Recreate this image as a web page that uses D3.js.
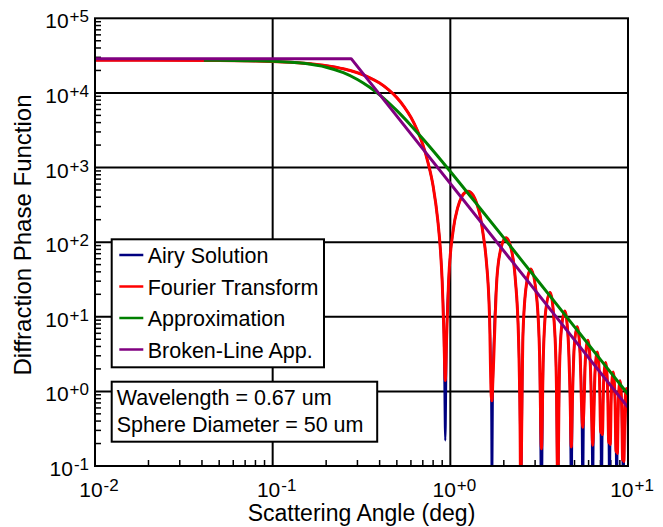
<!DOCTYPE html>
<html><head><meta charset="utf-8">
<script src="https://cdn.jsdelivr.net/npm/d3@7"></script>
<style>
body{margin:0;background:#fff}
svg{display:block;font-family:"Liberation Sans",Arial,sans-serif}
</style>
</head><body>
<svg id="c" width="663" height="527"></svg>
<script>
// ---- data ----
const airyAngle = [
0.01,0.02,0.05,0.1,0.15,0.2,0.25,0.3,0.35,0.4,0.45,0.5,0.55,0.6,0.65,0.7,0.75,0.8,0.85,0.88,0.9,0.92,0.9366,
0.9533,0.9777,1.0388,1.1000,1.1611,1.2222,1.2553,1.3444,1.4055,1.4666,1.5277,1.5888,1.6621,1.6988,1.7148,
1.7355,1.8333,1.9555,2.0574,2.1999,2.3221,2.4199,2.4688,2.4867,
2.5635,2.6787,2.8403,3.0643,3.1800,3.2568,
3.3336,3.4487,3.6407,3.8327,3.9479,4.0260,
4.1028,4.2180,4.4100,4.6019,4.7171,4.7947,
4.8716,4.9868,5.1787,5.3707,5.4859,5.5633,
5.6401,5.7553,5.9473,6.1393,6.2544,6.3317,
6.4085,6.5237,6.7157,6.9076,7.0228,7.1000,
7.1768,7.2920,7.4840,7.6759,7.7911,7.8682,
7.9450,8.0602,8.2522,8.4442,8.5593,8.6364,
8.7132,8.8284,9.0204,9.2123,9.3275,9.4045,
9.4813,9.5965,9.7884,9.9804,10.0956];
const airyValue = [
27463,27429,27189,26346,24989,23187,21037,18620,16074,13557,10980,8647,6519,4712,3197,2037,1148,564,196,77.3,29.5,5.8,0.22,
5.46,29.9,146.7,289.9,409,471.8,482.6,423.5,334,233.7,130.4,61.5,9.95,0.88,0.02,
1.40,35.7,94.5,114.3,81.6,31.7,5.23,0.363,0.02,
5.79,26.6,43.6,17.76,3.03,0.02,
2.634,12.45,21.17,9.07,1.586,0.02,
1.413,6.808,11.915,5.242,0.930,0.02,
0.844,4.120,7.357,3.298,0.591,0.02,
0.544,2.680,4.858,2.208,0.399,0.02,
0.371,1.840,3.374,1.550,0.282,0.02,
0.264,1.318,2.438,1.130,0.206,0.02,
0.1946,0.976,1.818,0.849,0.1556,0.02,
0.1475,0.7425,1.392,0.6535,0.1202,0.02,
0.1145,0.578,1.0895,0.514,0.0948];
const fourierAngle = [
0.01,0.02,0.05,0.1,0.15,0.2,0.25,0.3,0.35,0.4,0.45,0.5,0.55,0.6,0.65,0.7,0.75,0.8,0.85,0.88,0.9,0.92,0.9366,
0.9533,0.9777,1.0388,1.1000,1.1611,1.2222,1.2553,1.3444,1.4055,1.4666,1.5277,1.5888,1.6621,1.6988,1.7148,
1.7355,1.8333,1.9555,2.0574,2.1999,2.3221,2.4199,2.4688,2.4867,
2.5635,2.6787,2.8403,3.0643,3.1800,3.2568,
3.3336,3.4487,3.6407,3.8327,3.9479,4.0260,
4.1028,4.2180,4.4100,4.6019,4.7171,4.7947,
4.8716,4.9868,5.1787,5.3707,5.4859,5.5633,
5.6401,5.7553,5.9473,6.1393,6.2544,6.3317,
6.4085,6.5237,6.7157,6.9076,7.0228,7.1000,
7.1768,7.2920,7.4840,7.6759,7.7911,7.8682,
7.9450,8.0602,8.2522,8.4442,8.5593,8.6364,
8.7132,8.8284,9.0204,9.2123,9.3275,9.4045,
9.4813,9.5965,9.7884,9.9804,10.0956];
const fourierValue = [
27463,27429,27189,26346,24989,23187,21037,18620,16074,13557,10980,8647,6519,4712,3197,2037,1148,564,196,77.3,29.5,5.8,1.4,
5.46,29.9,146.7,289.9,409,471.8,482.6,423.5,334,233.7,130.4,61.5,9.95,0.88,0.75,
1.40,35.7,94.5,114.3,81.6,31.7,5.23,0.363,0.05,
5.79,26.6,43.6,17.76,3.03,0.17,
2.634,12.45,21.17,9.07,1.586,0.05,
1.413,6.808,11.915,5.242,0.930,0.18,
0.844,4.120,7.357,3.298,0.591,0.33,
0.544,2.680,4.858,2.208,0.399,0.19,
0.371,1.840,3.374,1.550,0.282,0.30,
0.264,1.318,2.438,1.130,0.206,0.22,
0.1946,0.976,1.818,0.849,0.1556,0.26,
0.1475,0.7425,1.392,0.6535,0.1202,0.23,
0.1145,0.578,1.0895,0.514,0.0948];
const approxAngle = [0.041,0.06,0.1,0.15,0.2,0.25,0.3,0.35,0.4,0.5,0.6,0.7,0.8,1,1.5,2,3,5,7,10];
const approxValue = [27330,27220,26600,24900,22100,18700,15150,12000,9400,5780,3670,2430,1680,885,268,114,33.8,7.32,2.67,0.915];
const brokenAngle = [0.01,0.2767,10];
const brokenValue = [28800,28800,0.61];

const xTicks = [0.01,0.1,1,10];
const xTickExp = ["-2","-1","+0","+1"];
const yTicks = [0.1,1,10,100,1000,10000,100000];
const yTickExp = ["-1","+0","+1","+2","+3","+4","+5"];

const seriesNames = ["Airy Solution","Fourier Transform","Approximation","Broken-Line App."];
const seriesColors = ["#000080","#ff0000","#008000","#800080"];
const infoLines = ["Wavelength = 0.67 um","Sphere Diameter = 50 um"];

// ---- drawing ----
const svg = d3.select("#c");
const L=95, R=628, T=18.3, B=466;
const x = d3.scaleLog().domain([0.01,10]).range([L,R]);
const y = d3.scaleLog().domain([0.1,1e5]).range([B,T]);

svg.append("defs").append("clipPath").attr("id","clip")
  .append("rect").attr("x",L).attr("y",T).attr("width",R-L).attr("height",B-T);

// grid
const g = svg.append("g");
g.selectAll(".gx").data(xTicks.slice(1,-1)).join("line")
  .attr("x1",d=>x(d)).attr("x2",d=>x(d)).attr("y1",T).attr("y2",B)
  .attr("stroke","#000").attr("stroke-width",2);
g.selectAll(".gy").data(yTicks.slice(1,-1)).join("line")
  .attr("y1",d=>y(d)).attr("y2",d=>y(d)).attr("x1",L).attr("x2",R)
  .attr("stroke","#000").attr("stroke-width",2);

// minor ticks
const xMinor=[], yMinor=[];
xTicks.slice(0,-1).forEach(d=>{for(let k=2;k<10;k++) xMinor.push(d*k);});
yTicks.slice(0,-1).forEach(d=>{for(let k=2;k<10;k++) yMinor.push(d*k);});
g.selectAll(".mx").data(xMinor).join("line")
  .attr("x1",d=>x(d)).attr("x2",d=>x(d)).attr("y1",B).attr("y2",B-6)
  .attr("stroke","#000").attr("stroke-width",1.5);
g.selectAll(".my").data(yMinor).join("line")
  .attr("y1",d=>y(d)).attr("y2",d=>y(d)).attr("x1",L).attr("x2",L+6)
  .attr("stroke","#000").attr("stroke-width",1.5);

// series
const smooth = d3.line().x(d=>x(d[0])).y(d=>y(Math.max(d[1],1e-3))).curve(d3.curveMonotoneX);
const straight = d3.line().x(d=>x(d[0])).y(d=>y(d[1])).curve(d3.curveLinear);
const series = [
  {a:airyAngle,v:airyValue,c:seriesColors[0],w:2.2,gen:smooth},
  {a:fourierAngle,v:fourierValue,c:seriesColors[1],w:3,gen:smooth},
  {a:approxAngle,v:approxValue,c:seriesColors[2],w:3,gen:smooth},
  {a:brokenAngle,v:brokenValue,c:seriesColors[3],w:3,gen:straight}
];
const dg = svg.append("g").attr("clip-path","url(#clip)");
series.forEach(s=>{
  dg.append("path").datum(s.a.map((a,i)=>[a,s.v[i]]))
    .attr("d",s.gen).attr("fill","none").attr("stroke",s.c)
    .attr("stroke-width",s.w).attr("stroke-linejoin","round");
});

// frame
svg.append("rect").attr("x",L).attr("y",T).attr("width",R-L).attr("height",B-T)
  .attr("fill","none").attr("stroke","#000").attr("stroke-width",2);

// tick labels
const yl = svg.append("g").attr("font-size",21).attr("fill","#000");
yTicks.forEach((d,i)=>{
  const t = yl.append("text").attr("x",89).attr("y",y(d)+10).attr("text-anchor","end");
  t.append("tspan").text("10");
  t.append("tspan").attr("font-size",17).attr("dy",-6).attr("dx",1).text(yTickExp[i]);
});
const xl = svg.append("g").attr("font-size",21).attr("fill","#000");
xTicks.forEach((d,i)=>{
  const t = xl.append("text").attr("x",x(d)+4).attr("y",497).attr("text-anchor","middle");
  t.append("tspan").text("10");
  t.append("tspan").attr("font-size",17).attr("dy",-6).attr("dx",1).text(xTickExp[i]);
});

// axis titles
svg.append("text").attr("x",(L+R)/2).attr("y",521).attr("text-anchor","middle")
  .attr("font-size",23).text("Scattering Angle (deg)");
svg.append("text").attr("transform","translate(31,235) rotate(-90)").attr("text-anchor","middle")
  .attr("font-size",24).text("Diffraction Phase Function");

// legend
const lg = svg.append("g");
lg.append("rect").attr("x",111.7).attr("y",239.3).attr("width",212.3).attr("height",128)
  .attr("fill","#fff").attr("stroke","#000").attr("stroke-width",2);
seriesNames.forEach((n,i)=>{
  const yy = 255 + i*31.5;
  lg.append("line").attr("x1",119.3).attr("x2",143.3).attr("y1",yy).attr("y2",yy)
    .attr("stroke",seriesColors[i]).attr("stroke-width",2.5);
  lg.append("text").attr("x",147.7).attr("y",yy+8).attr("font-size",21.5).text(n);
});
const ib = svg.append("g");
ib.append("rect").attr("x",111.7).attr("y",381.7).attr("width",265.5).attr("height",60)
  .attr("fill","#fff").attr("stroke","#000").attr("stroke-width",2);
infoLines.forEach((t,i)=>{
  ib.append("text").attr("x",116.7).attr("y",405+i*27.3).attr("font-size",21.5).text(t);
});
</script>
</body></html>
